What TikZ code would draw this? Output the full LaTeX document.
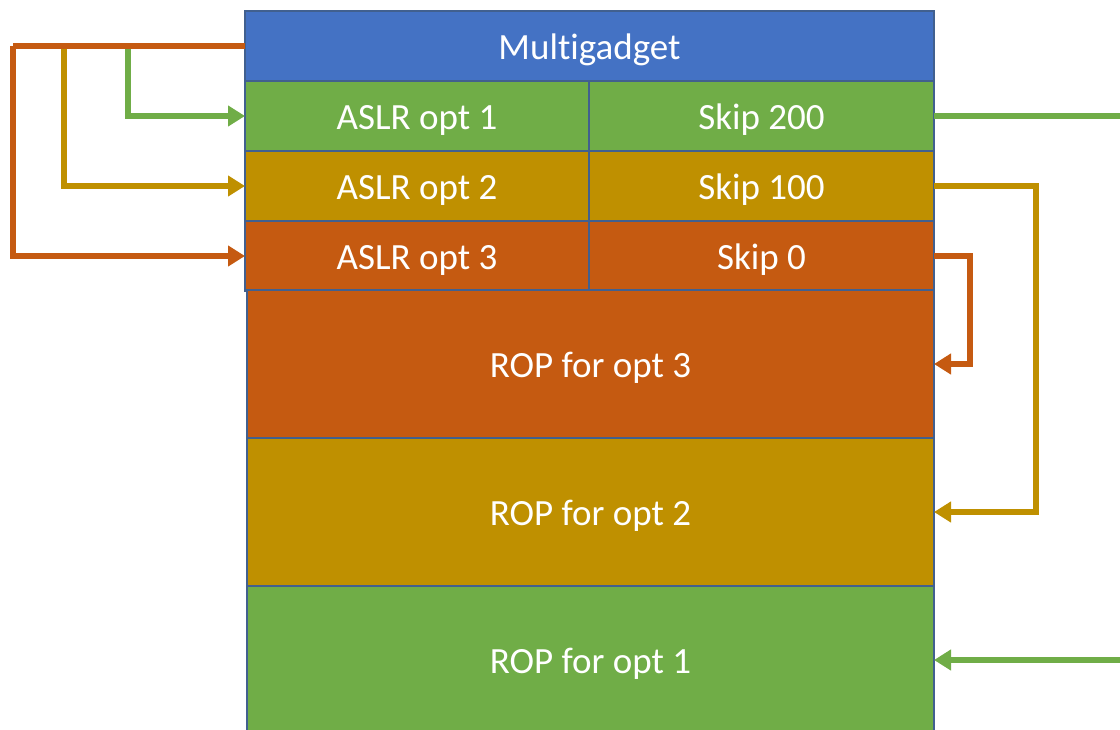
\documentclass[tikz,border=0pt]{standalone}
\usepackage{fontspec}
\setmainfont{Carlito}[Ligatures={NoCommon}]
\usetikzlibrary{arrows.meta}
\definecolor{cblue}{HTML}{4472C4}
\definecolor{cgreen}{HTML}{70AD47}
\definecolor{cgold}{HTML}{BF9000}
\definecolor{corange}{HTML}{C55A11}
\definecolor{cedge}{HTML}{41608F}
\begin{document}
\begin{tikzpicture}[x=1pt,y=-1pt,
  cell/.style={draw=cedge, line width=1.2pt, text=white, inner sep=0pt, outer sep=0pt,
    anchor=north west, text height=30pt, text depth=4pt,
    font=\fontsize{37}{44}\selectfont},
  half/.style={cell, minimum width=344, minimum height=70},
  full/.style={cell, minimum width=687, minimum height=148},
  link/.style={line width=5.5pt, -{Triangle[length=17pt,width=20pt]}},
  wire/.style={line width=5.5pt}]
\useasboundingbox (0,0) rectangle (1120,729);
\clip (0,0) rectangle (1120,729);

% header and the option table
\node[cell, fill=cblue, minimum width=689, minimum height=70] (mg) at (245,11) {Multigadget};
\node[half, fill=cgreen]  (a1) at (245,81)  {ASLR opt 1};
\node[half, fill=cgreen, minimum width=345] (s1) at (589,81)  {Skip 200};
\node[half, fill=cgold]   (a2) at (245,151) {ASLR opt 2};
\node[half, fill=cgold, minimum width=345]  (s2) at (589,151) {Skip 100};
\node[half, fill=corange] (a3) at (245,221) {ASLR opt 3};
\node[half, fill=corange, minimum width=345] (s3) at (589,221) {Skip 0};

% ROP chains
\node[full, fill=corange] (r3) at (247,290) {ROP for opt 3};
\node[full, fill=cgold]   (r2) at (247,438) {ROP for opt 2};
\node[full, fill=cgreen]  (r1) at (247,586) {ROP for opt 1};

% branch points on the left bus
\coordinate (jo) at (13,46);
\coordinate (jg) at (64,46);
\coordinate (jn) at (128,46);

% left: dispatch from the multigadget to each option
\draw[link, cgreen] (jn) |- (a1.west);
\draw[link, cgold]  (jg) |- (a2.west);
\draw[wire, corange] (mg.west) -- (jo);
\draw[link, corange] (jo) |- (a3.west);

% right: skips to the matching ROP chain
\draw[link, cgreen]  (s1.east) -- (1135,116) |- (r1.east);
\draw[link, cgold]   (s2.east) -- (1036,186) |- (r2.east);
\draw[link, corange] (s3.east) -- (970,256) |- (r3.east);
\end{tikzpicture}
\end{document}
